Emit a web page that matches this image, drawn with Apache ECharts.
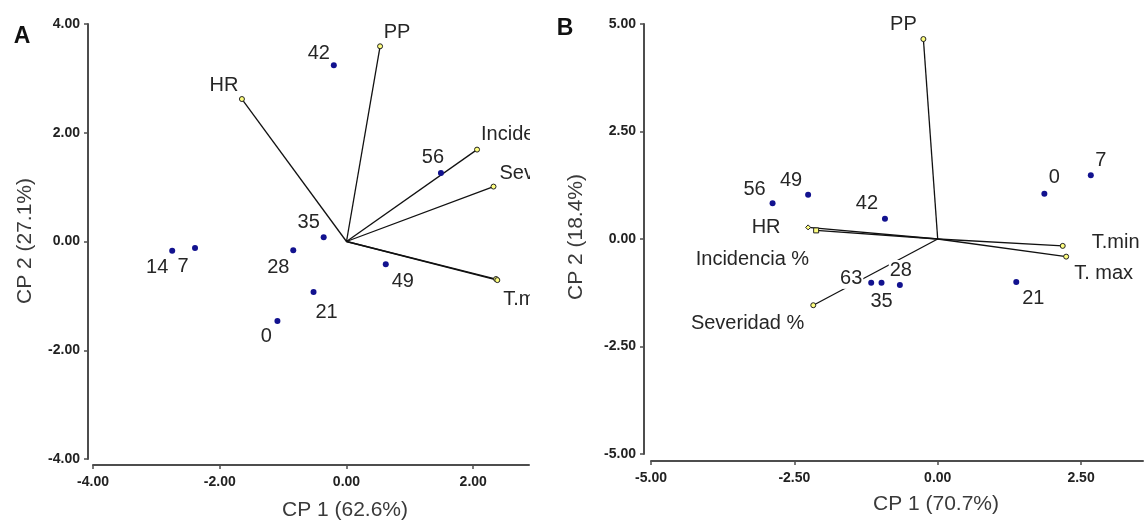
<!DOCTYPE html>
<html><head><meta charset="utf-8">
<script src="https://cdn.jsdelivr.net/npm/echarts@6/dist/echarts.min.js"></script>
<style>
html,body{margin:0;padding:0;background:#fff;}
#wrap{position:relative;width:1148px;height:521px;overflow:hidden;}
#ca{position:absolute;left:0;top:0;width:530px;height:521px;}
#cb{position:absolute;left:530px;top:0;width:618px;height:521px;}
</style>
</head><body><div id="wrap"><div id="ca"></div><div id="cb"></div></div>
<script>
// ---------- Panel A data ----------
const obsA_names = ['0','7','14','21','28','35','42','49','56'];
const obsA_x = [-1.09, -2.39, -2.75, -0.52, -0.84, -0.36, -0.20, 0.62, 1.49];
const obsA_y = [-1.46, -0.12, -0.17, -0.93, -0.16, 0.08, 3.24, -0.42, 1.26];
const varA_names = ['HR','PP','Incidencia %','Severidad %','T.min','T.max'];
const varA_x = [-1.65, 0.53, 2.06, 2.32, 2.36, 2.38];
const varA_y = [2.62, 3.59, 1.69, 1.01, -0.69, -0.71];
const xTicksA = [-4, -2, 0, 2];
const titleA_x = 'CP 1 (62.6%)';
const titleA_y = 'CP 2 (27.1%)';

// ---------- Panel B data ----------
const obsB_names = ['0','7','21','28','35','42','49','56','63'];
const obsB_x = [1.86, 2.67, 1.37, -0.66, -0.98, -0.92, -2.26, -2.88, -1.16];
const obsB_y = [1.05, 1.48, -1.00, -1.07, -1.02, 0.47, 1.03, 0.83, -1.02];
const varB_names = ['PP','HR','Incidencia %','Severidad %','T.min','T. max'];
const varB_x = [-0.25, -2.26, -2.12, -2.17, 2.18, 2.24];
const varB_y = [4.65, 0.27, 0.20, -1.54, -0.16, -0.41];
const xTicksB = [-5, -2.5, 0, 2.5];
const titleB_x = 'CP 1 (70.7%)';
const titleB_y = 'CP 2 (18.4%)';

// ---------- styling (label placements: [dx, dy, align]) ----------
const obsA_lab = [[-11,16,'center'],[-12,18,'center'],[-15,17,'center'],[13,20,'center'],[-15,17,'center'],[-15,-15,'center'],[-15,-12,'center'],[17,17,'center'],[-8,-16,'center']];
const varA_lab = [[-18,-14,'center'],[17,-14,'center'],[3,-15,'left'],[5,-13,'left'],null,[5,19,'left']];
const varA_sym = ['circle','circle','circle','circle','circle','circle'];
const obsB_lab = [[10,-16,'center'],[10,-15,'center'],[17,16,'center'],[1,-15,'center'],[0,19,'center'],[-18,-15,'center'],[-17,-14,'center'],[-18,-14,'center'],[-20,-4,'center']];
const varB_lab = [[-20,-15,'center'],[-42,0,'center'],[-6,29,'right'],[-8,18,'right'],[28,-3,'left'],[7,17,'left']];
const varB_sym = ['circle','diamond','rect','circle','circle','circle'];

const FONT = "'Liberation Sans', Arial, sans-serif";
const AX = '#4d4d4d';
const TXT = '#262626';

function labelCfg(l) {
  if (!l) return {show:false};
  return {show:true, offset:[l[0], l[1]], align:l[2]};
}

function axisCommon() {
  return {
    type:'value',
    axisLine:{show:true, onZero:false, lineStyle:{color:AX, width:2}},
    axisTick:{show:true, inside:false, length:4, lineStyle:{color:AX, width:1.5}},
    axisLabel:{formatter:v => v.toFixed(2), color:'#222', fontWeight:'bold', fontSize:14, fontFamily:FONT},
    splitLine:{show:false}
  };
}

function makeOption(p) {
  const obsData = p.obsX.map((x,i)=>({value:[x,p.obsY[i]], name:p.obsNames[i], label:labelCfg(p.obsLab[i])}));
  const varData = p.varX.map((x,i)=>({value:[x,p.varY[i]], name:p.varNames[i], symbol:p.varSym[i], label:labelCfg(p.varLab[i])}));
  const lineData = p.varX.map((x,i)=>({coords:[[0,0],[x,p.varY[i]]]}));
  const xa = axisCommon();
  Object.assign(xa, {min:p.xMin, max:p.xMax, interval:p.xStep, offset:p.xOff});
  xa.axisTick.customValues = p.xTicks;
  xa.axisLabel.customValues = p.xTicks;
  xa.axisLabel.margin = 10;
  const ya = axisCommon();
  Object.assign(ya, {min:p.yMin, max:p.yMax, interval:p.yStep, offset:p.yOff});
  ya.axisLabel.margin = 8;
  const lab = {position:'inside', formatter:'{b}', color:TXT, fontSize:20, fontFamily:FONT,
               backgroundColor:'#fff', padding:[0,1]};
  return {
    animation:false,
    backgroundColor:'#fff',
    grid:{left:p.grid[0], top:p.grid[1], width:p.grid[2], height:p.grid[3], containLabel:false},
    xAxis:xa,
    yAxis:ya,
    series:[
      {type:'lines', coordinateSystem:'cartesian2d', data:lineData, silent:true, z:1,
       lineStyle:{color:'#111', width:1.3, opacity:1}},
      {type:'scatter', data:varData, symbolSize:5, z:3,
       itemStyle:{color:'#ffff80', borderColor:'#222', borderWidth:1, opacity:1},
       label:Object.assign({}, lab)},
      {type:'scatter', data:obsData, symbolSize:6, z:4,
       itemStyle:{color:'#12128f', opacity:1},
       label:Object.assign({}, lab)}
    ],
    graphic:[
      {type:'text', x:p.xt[0], y:p.xt[1], style:{text:p.titleX, font:"21px "+FONT, fill:'#3a3a3a', align:'center', verticalAlign:'middle', textAlign:'center', textVerticalAlign:'middle'}},
      {type:'text', x:p.yt[0], y:p.yt[1], rotation:Math.PI/2, style:{text:p.titleY, font:"21px "+FONT, fill:'#3a3a3a', align:'center', verticalAlign:'middle', textAlign:'center', textVerticalAlign:'middle'}},
      {type:'text', x:p.letter[1], y:p.letter[2], style:{text:p.letter[0], font:"bold 23px "+FONT, fill:'#111', align:'center', verticalAlign:'middle', textAlign:'center', textVerticalAlign:'middle'}}
    ]
  };
}

const chartA = echarts.init(document.getElementById('ca'), null, {renderer:'canvas'});
chartA.setOption(makeOption({
  obsNames:obsA_names, obsX:obsA_x, obsY:obsA_y, obsLab:obsA_lab,
  varNames:varA_names, varX:varA_x, varY:varA_y, varLab:varA_lab, varSym:varA_sym,
  grid:[93, 24, 436, 435], xMin:-4, xMax:2.88, xStep:2, xTicks:xTicksA, xOff:6,
  yMin:-4, yMax:4, yStep:2, yOff:5,
  titleX:titleA_x, titleY:titleA_y, xt:[345,510], yt:[25,241], letter:['A',22,37]
}));

const chartB = echarts.init(document.getElementById('cb'), null, {renderer:'canvas'});
chartB.setOption(makeOption({
  obsNames:obsB_names, obsX:obsB_x, obsY:obsB_y, obsLab:obsB_lab,
  varNames:varB_names, varX:varB_x, varY:varB_y, varLab:varB_lab, varSym:varB_sym,
  grid:[121, 24, 492, 430], xMin:-5, xMax:3.58, xStep:2.5, xTicks:xTicksB, xOff:7,
  yMin:-5, yMax:5, yStep:2.5, yOff:7,
  titleX:titleB_x, titleY:titleB_y, xt:[406,504], yt:[46,237], letter:['B',35,29]
}));
</script>
</body></html>
